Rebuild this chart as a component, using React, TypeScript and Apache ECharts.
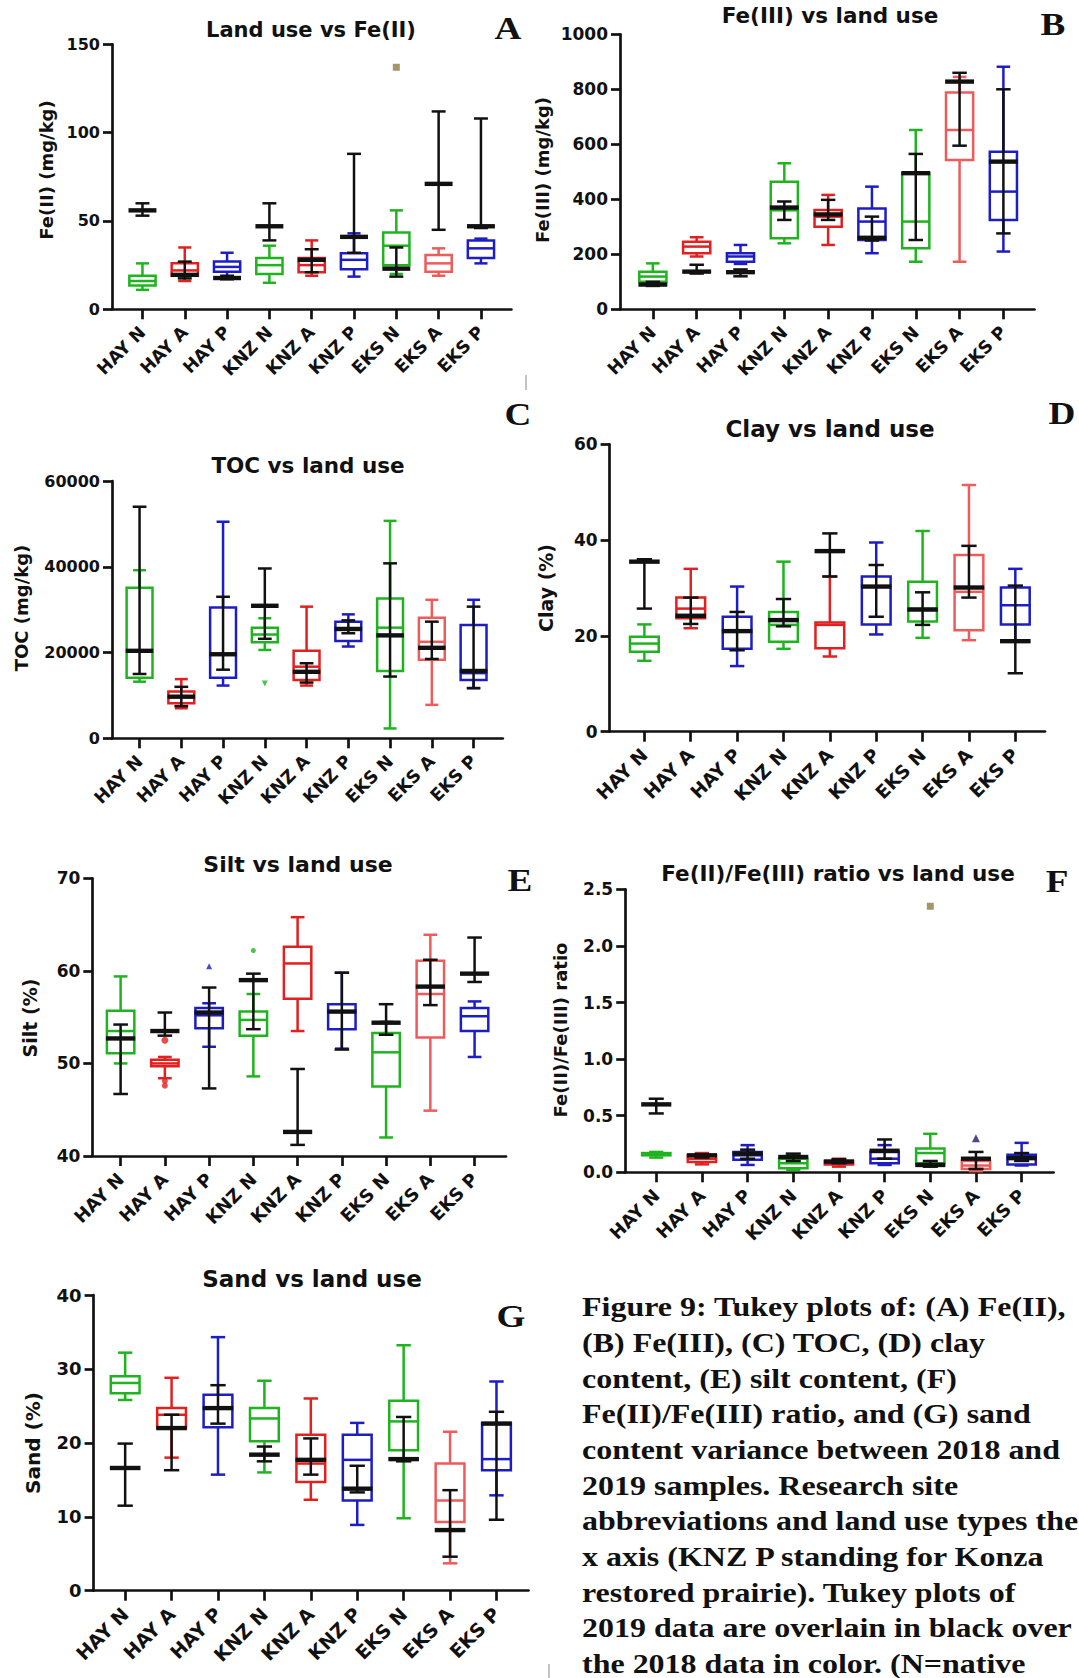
import React, { useEffect, useRef } from "react";
import * as echarts from "echarts";

// ---------- DATA ----------
const categories = ["HAY N", "HAY A", "HAY P", "KNZ N", "KNZ A", "KNZ P", "EKS N", "EKS A", "EKS P"];

// 2018 Tukey boxes: [min, q1, median, q3, max]
// 2019 (black overlay): [min, median, max]
const feII2018 = [
  [11, 13.5, 16, 19, 26], [16, 19, 22, 26, 35], [17.5, 21.3, 24, 27, 32],
  [15, 20, 25, 29, 36], [19, 21, 25, 29, 39], [18.5, 22.6, 28, 31.7, 43],
  [20, 25, 36, 43.5, 56], [19, 21.3, 26, 30.8, 34.5], [26, 29, 34.5, 39, 40],
];
const feII2019 = [
  [53, 56, 60], [17.5, 19.5, 27], [17, 17.7, 19], [39, 47, 60], [21, 28, 34],
  [32, 41, 88], [18.5, 23, 35], [45, 71, 112], [46, 47, 108],
];
const feIIOutliers = [[6, 137]];

const feIII2018 = [
  [95, 100, 119, 137, 167], [192, 204, 228, 246, 262], [165, 173, 192, 204, 234],
  [240, 258, 360, 464, 531], [234, 300, 337, 361, 416], [204, 252, 319, 367, 446],
  [173, 222, 319, 495, 652], [173, 543, 652, 788, 845], [210, 325, 428, 573, 882],
];
const feIII2019 = [
  [85, 90, 100], [130, 137, 162], [120, 135, 145], [325, 370, 392], [325, 345, 398],
  [250, 260, 337], [252, 495, 565], [595, 828, 860], [276, 537, 800],
];
const feIIIOutliers: number[][] = [];

const toc2018 = [
  [13200, 14100, 20400, 35100, 39200], [7000, 8200, 9700, 10900, 13800], [12300, 14100, 19600, 30500, 50500],
  [20600, 22400, 24200, 25800, 28000], [12300, 13600, 16700, 20400, 30700], [21400, 22700, 25300, 27200, 28900],
  [2300, 15700, 25800, 32600, 50700], [7800, 18300, 22500, 28100, 32300], [11700, 13600, 15200, 26400, 32300],
];
const toc2019 = [
  [15000, 20400, 54000], [7500, 9700, 12000], [16000, 19600, 33000], [23200, 30900, 39600], [13000, 15500, 17500],
  [24500, 25500, 27500], [14400, 24000, 40800], [18500, 21100, 27200], [11700, 15700, 30700],
];
const tocOutliers = [[3, 12800]];

const clay2018 = [
  [14.8, 16.7, 18.4, 19.8, 22.4], [21.6, 23.7, 25.7, 28, 34], [13.7, 17.3, 20.9, 24, 30.3],
  [17.3, 18.8, 22.3, 25, 35.5], [15.7, 17.4, 22.3, 22.8, 32.4], [20.3, 22.4, 30.3, 32.4, 39.5],
  [19.6, 23, 25.7, 31.3, 41.9], [19.1, 21.2, 29.2, 36.9, 51.5], [19, 22.4, 26.4, 30.1, 34],
];
const clay2019 = [
  [25.7, 35.5, 36], [22.5, 24.2, 28], [17, 21, 25], [22, 23.3, 27.7], [32.4, 37.7, 41.4],
  [24, 30.3, 34.8], [22.3, 25.5, 29.1], [28, 30.1, 38.8], [12.2, 18.9, 30.5],
];
const clayOutliers: number[][] = [];

const silt2018 = [
  [50, 51.1, 53.5, 55.7, 59.4], [48.4, 49.7, 50, 50.4, 50.7], [51.8, 53.8, 55.2, 56, 56.5],
  [48.6, 53, 54.7, 55.6, 57.5], [53.5, 57, 60.8, 62.6, 65.8], [51.6, 53.7, 55.6, 56.4, 59.8],
  [42, 47.5, 51.2, 53.3, 54.5], [44.9, 52.8, 57.5, 61.1, 63.9], [50.7, 53.5, 55.1, 56, 56.7],
];
const silt2019 = [
  [46.7, 52.7, 54.2], [53, 53.5, 55.5], [47.3, 55.5, 58.2], [53.7, 59, 59.7], [41.2, 42.6, 49.4],
  [51.5, 55.6, 59.8], [53.1, 54.4, 56.4], [56.3, 58.3, 61.2], [58.8, 59.7, 63.6],
];
const siltOutliers = [[1, 52.5], [1, 48.1], [1, 47.6], [2, 60.5], [3, 62.2]];

const ratio2018 = [
  [0.13, 0.15, 0.16, 0.17, 0.18], [0.07, 0.09, 0.12, 0.15, 0.17], [0.065, 0.11, 0.15, 0.18, 0.24],
  [0.02, 0.035, 0.08, 0.12, 0.15], [0.05, 0.07, 0.085, 0.1, 0.12], [0.065, 0.08, 0.12, 0.18, 0.24],
  [0.05, 0.08, 0.17, 0.21, 0.34], [0.01, 0.03, 0.06, 0.1, 0.12], [0.06, 0.07, 0.12, 0.155, 0.26],
];
const ratio2019 = [
  [0.52, 0.6, 0.65], [0.13, 0.15, 0.16], [0.12, 0.165, 0.2], [0.1, 0.135, 0.165], [0.08, 0.095, 0.115],
  [0.12, 0.19, 0.29], [0.05, 0.065, 0.1], [0.03, 0.12, 0.18], [0.1, 0.125, 0.17],
];
const ratioOutliers = [[6, 2.35], [7, 0.3]];

const sand2018 = [
  [25.8, 26.7, 28.1, 29, 32.2], [18, 22, 23.8, 24.7, 28.8], [15.7, 22.1, 24.7, 26.5, 34.3],
  [16, 20.2, 23.3, 24.7, 28.4], [12.3, 14.7, 17.2, 21.1, 26], [8.9, 12.2, 17.7, 21.1, 22.7],
  [9.8, 19, 22.9, 25.7, 33.2], [3.7, 9.3, 12.2, 17.2, 21.5], [12.9, 16.3, 17.8, 22.7, 28.3],
];
const sand2019 = [
  [11.5, 16.6, 19.9], [16.3, 22, 23.8], [22.6, 24.7, 27.8], [17.5, 18.4, 19.5], [15.7, 17.7, 20.6],
  [13.3, 13.8, 16.9], [17.5, 17.8, 23.5], [4.6, 8.2, 13.6], [9.6, 22.6, 24.2],
];
const sandOutliers: number[][] = [];

const captionLines = [
  "Figure 9: Tukey plots of: (A) Fe(II),",
  "(B) Fe(III), (C) TOC, (D) clay",
  "content, (E) silt content, (F)",
  "Fe(II)/Fe(III) ratio, and (G) sand",
  "content variance between 2018 and",
  "2019 samples. Research site",
  "abbreviations and land use types the",
  "x axis (KNZ P standing for Konza",
  "restored prairie). Tukey plots of",
  "2019 data are overlain in black over",
  "the 2018 data in color. (N=native",
];

// ---------- STYLES / LAYOUT ----------
const GREEN = "#1fb41f";
const RED = "#e1201f";
const LRED = "#ee5b5b";
const BLUE = "#1d1dc6";
const BLACK = "#111111";
const OLIVE = "#8c7d45";
const boxColors = [GREEN, RED, BLUE, GREEN, RED, BLUE, GREEN, LRED, BLUE];

const outlierStyles: Record<string, { symbol: string; color: string; size: number; rotate?: number }[]> = {
  A: [{ symbol: "rect", color: OLIVE, size: 7 }],
  B: [],
  C: [{ symbol: "triangle", color: GREEN, size: 6, rotate: 180 }],
  D: [],
  E: [
    { symbol: "circle", color: RED, size: 7 },
    { symbol: "circle", color: RED, size: 6 },
    { symbol: "circle", color: RED, size: 6 },
    { symbol: "triangle", color: BLUE, size: 6 },
    { symbol: "circle", color: GREEN, size: 5 },
  ],
  F: [
    { symbol: "rect", color: OLIVE, size: 7 },
    { symbol: "triangle", color: "#1a1a6e", size: 8 },
  ],
  G: [],
};

type Panel = {
  key: string; title: string; yName: string;
  box: number[][]; black: number[][]; outliers: number[][];
  yMin: number; yMax: number; yStep: number; dec: number;
  left: number; top: number; width: number; height: number; xMin: number; xMax: number;
  titleX: number; titleY: number; titleSize: number;
  letterX: number; letterY: number; nameX: number; nameY: number; nameSize: number;
  tickSize: number; catSize: number;
};

const panels: Panel[] = [
  { key: "A", title: "Land use vs Fe(II)", yName: "Fe(II) (mg/kg)", box: feII2018, black: feII2019, outliers: feIIOutliers,
    yMin: 0, yMax: 150, yStep: 50, dec: 0,
    left: 112, top: 44.3, width: 399.4, height: 265, xMin: -0.72, xMax: 8.72,
    titleX: 311, titleY: 30, titleSize: 21, letterX: 508, letterY: 28, nameX: 46, nameY: 170, nameSize: 18, tickSize: 16, catSize: 17.5 },
  { key: "B", title: "Fe(III) vs land use", yName: "Fe(III) (mg/kg)", box: feIII2018, black: feIII2019, outliers: feIIIOutliers,
    yMin: 0, yMax: 1000, yStep: 200, dec: 0,
    left: 620, top: 34.3, width: 414.5, height: 275, xMin: -0.75, xMax: 8.71,
    titleX: 830, titleY: 15, titleSize: 21.5, letterX: 1053, letterY: 24, nameX: 542, nameY: 170, nameSize: 18, tickSize: 17, catSize: 17.5 },
  { key: "C", title: "TOC vs land use", yName: "TOC (mg/kg)", box: toc2018, black: toc2019, outliers: tocOutliers,
    yMin: 0, yMax: 60000, yStep: 20000, dec: 0,
    left: 112, top: 481, width: 390.8, height: 257.3, xMin: -0.66, xMax: 8.7,
    titleX: 308, titleY: 465, titleSize: 21.5, letterX: 518, letterY: 414, nameX: 21, nameY: 608, nameSize: 18, tickSize: 16, catSize: 17.5 },
  { key: "D", title: "Clay vs land use", yName: "Clay (%)", box: clay2018, black: clay2019, outliers: clayOutliers,
    yMin: 0, yMax: 60, yStep: 20, dec: 0,
    left: 609.6, top: 444.3, width: 435.4, height: 287.4, xMin: -0.75, xMax: 8.64,
    titleX: 830, titleY: 429, titleSize: 23, letterX: 1062, letterY: 413, nameX: 546, nameY: 588, nameSize: 19, tickSize: 17, catSize: 18.5 },
  { key: "E", title: "Silt vs land use", yName: "Silt (%)", box: silt2018, black: silt2019, outliers: siltOutliers,
    yMin: 40, yMax: 70, yStep: 10, dec: 0,
    left: 92.3, top: 878.3, width: 413.7, height: 277.7, xMin: -0.64, xMax: 8.71,
    titleX: 298, titleY: 864, titleSize: 22, letterX: 520, letterY: 880, nameX: 30, nameY: 1018, nameSize: 19, tickSize: 17, catSize: 18 },
  { key: "F", title: "Fe(II)/Fe(III) ratio vs land use", yName: "Fe(II)/Fe(III) ratio", box: ratio2018, black: ratio2019, outliers: ratioOutliers,
    yMin: 0, yMax: 2.5, yStep: 0.5, dec: 1,
    left: 625.2, top: 889.3, width: 428.4, height: 283, xMin: -0.68, xMax: 8.7,
    titleX: 838, titleY: 873, titleSize: 21.5, letterX: 1057, letterY: 881, nameX: 560, nameY: 1030, nameSize: 18, tickSize: 17, catSize: 18 },
  { key: "G", title: "Sand vs land use", yName: "Sand (%)", box: sand2018, black: sand2019, outliers: sandOutliers,
    yMin: 0, yMax: 40, yStep: 10, dec: 0,
    left: 93.6, top: 1295, width: 434.9, height: 295.7, xMin: -0.68, xMax: 8.69,
    titleX: 312, titleY: 1279, titleSize: 23, letterX: 511, letterY: 1316, nameX: 33, nameY: 1443, nameSize: 20, tickSize: 18, catSize: 19 },
];

const SANS = "DejaVu Sans";
const SERIF = "Liberation Serif";
const tickVals = categories.map((_, i) => i);

function renderBox(params: any, api: any) {
  const i = api.value(0);
  const pts = [1, 2, 3, 4, 5].map((k) => api.coord([i, api.value(k)]));
  const cx = pts[0][0];
  const band = api.size([1, 0])[0];
  const bw = band * 0.62;
  const cw = bw * 0.5;
  const color = boxColors[i];
  const [yMin, yQ1, yMed, yQ3, yMax] = pts.map((p: number[]) => p[1]);
  const ls = { stroke: color, lineWidth: 2.5, fill: "none" };
  return {
    type: "group",
    children: [
      { type: "line", shape: { x1: cx, y1: yMax, x2: cx, y2: yQ3 }, style: ls },
      { type: "line", shape: { x1: cx, y1: yQ1, x2: cx, y2: yMin }, style: ls },
      { type: "line", shape: { x1: cx - cw / 2, y1: yMax, x2: cx + cw / 2, y2: yMax }, style: ls },
      { type: "line", shape: { x1: cx - cw / 2, y1: yMin, x2: cx + cw / 2, y2: yMin }, style: ls },
      { type: "rect", shape: { x: cx - bw / 2, y: yQ3, width: bw, height: yQ1 - yQ3 }, style: ls },
      { type: "line", shape: { x1: cx - bw / 2, y1: yMed, x2: cx + bw / 2, y2: yMed }, style: ls },
    ],
  };
}

function renderBlack(params: any, api: any) {
  const i = api.value(0);
  const pMin = api.coord([i, api.value(1)]);
  const pMed = api.coord([i, api.value(2)]);
  const pMax = api.coord([i, api.value(3)]);
  const cx = pMin[0];
  const band = api.size([1, 0])[0];
  const bw = band * 0.66;
  const cw = bw * 0.5;
  const ls = { stroke: BLACK, lineWidth: 2.5, fill: "none" };
  return {
    type: "group",
    children: [
      { type: "line", shape: { x1: cx, y1: pMax[1], x2: cx, y2: pMin[1] }, style: ls },
      { type: "line", shape: { x1: cx - cw / 2, y1: pMax[1], x2: cx + cw / 2, y2: pMax[1] }, style: ls },
      { type: "line", shape: { x1: cx - cw / 2, y1: pMin[1], x2: cx + cw / 2, y2: pMin[1] }, style: ls },
      { type: "line", shape: { x1: cx - bw / 2, y1: pMed[1], x2: cx + bw / 2, y2: pMed[1] }, style: { stroke: BLACK, lineWidth: 4.4 } },
    ],
  };
}

function buildOption() {
  const axisLine = { color: BLACK, width: 2.7 };
  const grid: any[] = [];
  const xAxis: any[] = [];
  const yAxis: any[] = [];
  const series: any[] = [];
  const graphic: any[] = [];

  panels.forEach((p, gi) => {
    grid.push({ left: p.left, top: p.top, width: p.width, height: p.height, containLabel: false });
    xAxis.push({
      gridIndex: gi, type: "value", min: p.xMin, max: p.xMax,
      axisLine: { show: true, onZero: false, lineStyle: axisLine },
      axisTick: { show: true, customValues: tickVals, length: 10, lineStyle: axisLine },
      axisLabel: {
        customValues: tickVals, formatter: (v: number) => categories[Math.round(v)] ?? "",
        rotate: 45, fontFamily: SANS, fontWeight: "bold", fontSize: p.catSize, color: BLACK, margin: 20,
      },
      splitLine: { show: false },
    });
    yAxis.push({
      gridIndex: gi, type: "value", min: p.yMin, max: p.yMax, interval: p.yStep,
      axisLine: { show: true, onZero: false, lineStyle: axisLine },
      axisTick: { show: true, length: 9, lineStyle: axisLine },
      axisLabel: {
        formatter: (v: number) => v.toFixed(p.dec),
        fontFamily: SANS, fontWeight: "bold", fontSize: p.tickSize, color: BLACK, margin: 12,
      },
      splitLine: { show: false },
    });
    series.push({
      type: "custom", name: p.key + " 2018", xAxisIndex: gi, yAxisIndex: gi, z: 2,
      renderItem: renderBox,
      encode: { x: 0, y: [1, 2, 3, 4, 5] },
      data: p.box.map((d, i) => [i, ...d]),
    });
    series.push({
      type: "custom", name: p.key + " 2019", xAxisIndex: gi, yAxisIndex: gi, z: 3,
      renderItem: renderBlack,
      encode: { x: 0, y: [1, 2, 3] },
      data: p.black.map((d, i) => [i, ...d]),
    });
    if (p.outliers.length) {
      const st = outlierStyles[p.key];
      series.push({
        type: "scatter", xAxisIndex: gi, yAxisIndex: gi, z: 4,
        data: p.outliers.map((o, k) => ({
          value: o, symbol: st[k].symbol, symbolSize: st[k].size, symbolRotate: st[k].rotate ?? 0,
          itemStyle: { color: st[k].color },
        })),
      });
    }
    graphic.push({
      type: "text", x: p.titleX, y: p.titleY,
      style: { text: p.title, fontFamily: SANS, fontWeight: "bold", fontSize: p.titleSize, fill: BLACK, align: "center", verticalAlign: "middle" },
    });
    graphic.push({
      type: "text", x: p.letterX, y: p.letterY, scaleX: 1.2,
      style: { text: p.key, fontFamily: SERIF, fontWeight: "bold", fontSize: 31, fill: BLACK, align: "center", verticalAlign: "middle" },
    });
    graphic.push({
      type: "text", x: p.nameX, y: p.nameY, rotation: Math.PI / 2,
      style: { text: p.yName, fontFamily: SANS, fontWeight: "bold", fontSize: p.nameSize, fill: BLACK, align: "center", verticalAlign: "middle" },
    });
  });

  captionLines.forEach((line, i) => {
    graphic.push({
      type: "text", x: 582, y: 1307 + 35.7 * i, scaleX: 1.185,
      style: { text: line, fontFamily: SERIF, fontWeight: "bold", fontSize: 27, fill: BLACK, align: "left", verticalAlign: "middle" },
    });
  });

  // small stray marks present in the scanned figure
  graphic.push({ type: "line", shape: { x1: 526, y1: 375, x2: 526, y2: 390 }, style: { stroke: "#888", lineWidth: 1 } });
  graphic.push({ type: "line", shape: { x1: 549, y1: 1664, x2: 549, y2: 1678 }, style: { stroke: "#888", lineWidth: 1 } });

  return {
    animation: false,
    backgroundColor: "#ffffff",
    grid, xAxis, yAxis, series, graphic,
  };
}

export default function App() {
  const ref = useRef<HTMLDivElement>(null);
  useEffect(() => {
    if (!ref.current) return;
    const chart = echarts.init(ref.current, undefined, { renderer: "svg" });
    chart.setOption(buildOption() as any);
    return () => chart.dispose();
  }, []);
  return (
    <div
      ref={ref}
      style={{ position: "absolute", left: 0, top: 0, width: 1079, height: 1678, overflow: "hidden", background: "#fff" }}
    />
  );
}
